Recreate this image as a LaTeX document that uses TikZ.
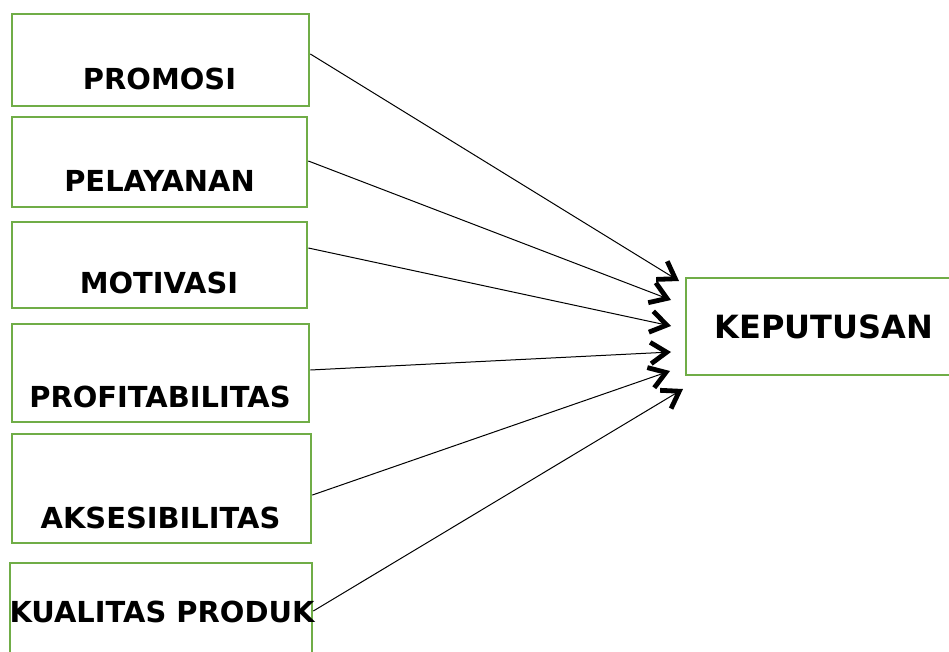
\documentclass[tikz,border=0pt]{standalone}
\usepackage{fontspec}
\setmainfont{DejaVu Sans}
\usetikzlibrary{arrows.meta,positioning}
\definecolor{boxgreen}{HTML}{70AD47}

\begin{document}
\begin{tikzpicture}[
  x=0.75pt, y=-0.75pt,
  >={Straight Barb[length=12pt, width=16pt, line width=3.6pt 0]},
  var/.style={draw=boxgreen, line width=2pt, inner sep=0pt},
  lbl/.style={anchor=base, inner sep=0pt, font=\fontsize{21.7}{26}\selectfont\bfseries},
  link/.style={->, line width=0.75pt}
]
\useasboundingbox (0,0) rectangle (949,652);

% Boxes (left column)
\node[var, minimum width=222.75pt, minimum height=69pt]   (promosi)   at (160.5,60)  {};
\node[var, minimum width=221.25pt, minimum height=67.5pt] (pelayanan) at (159.5,162) {};
\node[var, minimum width=221.25pt, minimum height=64.5pt] (motivasi)  at (159.5,265) {};
\node[var, minimum width=222.75pt, minimum height=73.5pt] (profit)    at (160.5,373) {};
\node[var, minimum width=224.25pt, minimum height=81.75pt] (akses)    at (161.5,488.5) {};
\node[var, minimum width=226.5pt, minimum height=82.5pt]  (kualitas)  at (161,618)   {};

% Box (right)
\node[var, minimum width=207pt, minimum height=72.75pt] (keputusan) at (824,326.5) {};

% Labels
\node[lbl] (promosi-t)   at (159.5,90)  {PROMOSI};
\node[lbl] (pelayanan-t) at (159.5,192) {PELAYANAN};
\node[lbl] (motivasi-t)  at (159,293)   {MOTIVASI};
\node[lbl] (profit-t)    at (160,407)   {PROFITABILITAS};
\node[lbl] (akses-t)     at (160.5,528) {AKSESIBILITAS};
\node[lbl] (kualitas-t)  at (162,622)   {KUALITAS PRODUK};
\node[lbl, font=\fontsize{24}{29}\selectfont\bfseries] (keputusan-t) at (824,338) {KEPUTUSAN};

% Arrow tips (free ends, left of KEPUTUSAN)
\coordinate (t1) at (679,281);
\coordinate (t2) at (671,300);
\coordinate (t3) at (671,326);
\coordinate (t4) at (671,352);
\coordinate (t5) at (670,371);
\coordinate (t6) at (683,389);

% Arcs: variables -> keputusan
\draw[link] ([yshift=4.5pt]promosi.east)    -- (t1);
\draw[link] ([yshift=0.75pt]pelayanan.east) -- (t2);
\draw[link] ([yshift=12.75pt]motivasi.east) -- (t3);
\draw[link] ([yshift=2.25pt]profit.east)    -- (t4);
\draw[link] ([yshift=-4.9pt]akses.east)     -- (t5);
\draw[link] ([yshift=5.25pt]kualitas.east)  -- (t6);

\end{tikzpicture}
\end{document}
